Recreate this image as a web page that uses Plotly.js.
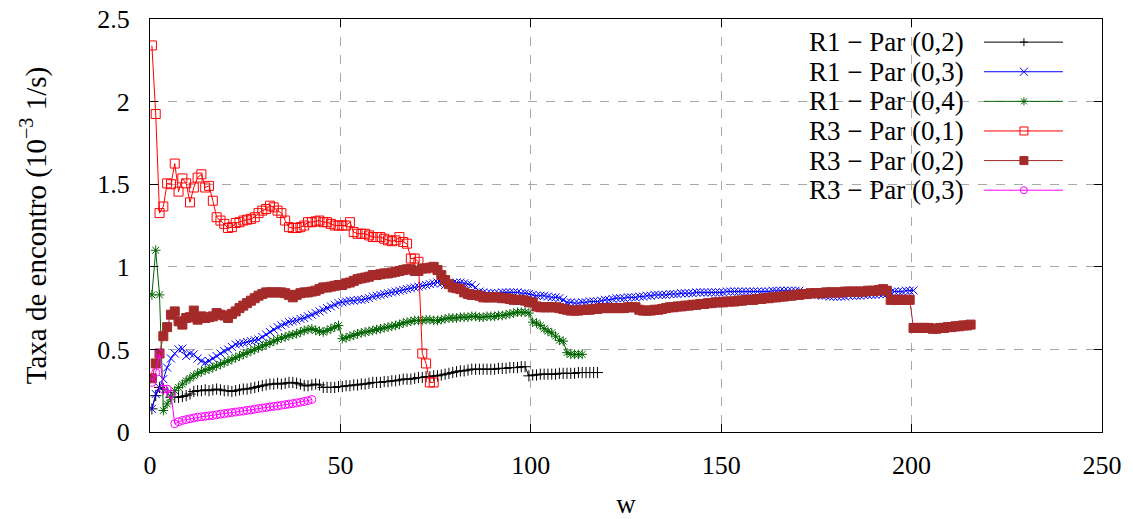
<!DOCTYPE html>
<html>
<head>
<meta charset="utf-8">
<script src="https://cdn.plot.ly/plotly-3.0.1.min.js"></script>
<style>html,body{margin:0;padding:0;background:#fff;}#chart{width:1133px;height:519px;}</style>
</head>
<body>
<div id="chart"></div>
<script>
// Series names
const seriesNames = ["R1 \u2212 Par (0,2)", "R1 \u2212 Par (0,3)", "R1 \u2212 Par (0,4)", "R3 \u2212 Par (0,1)", "R3 \u2212 Par (0,2)", "R3 \u2212 Par (0,3)"];
// first w value of every series (step 1)
const wStart = 0.5;

const r1p02 = [0.14,0.22,0.27,0.26,0.24,0.21,0.21,0.21,0.215,0.22,0.23,0.245,0.25,0.25,0.255,0.25,0.255,0.26,0.255,0.25,
0.25,0.245,0.25,0.255,0.26,0.26,0.265,0.27,0.275,0.28,0.285,0.29,0.29,0.295,0.29,0.295,0.30,0.30,0.295,0.29,
0.28,0.28,0.285,0.29,0.285,0.27,0.27,0.27,0.27,0.275,0.275,0.28,0.28,0.285,0.285,0.29,0.29,0.295,0.30,0.30,
0.30,0.305,0.305,0.31,0.31,0.315,0.32,0.32,0.32,0.325,0.33,0.33,0.335,0.335,0.34,0.34,0.345,0.35,0.355,0.36,
0.365,0.37,0.37,0.375,0.38,0.38,0.38,0.38,0.38,0.38,0.38,0.385,0.385,0.385,0.39,0.39,0.39,0.395,0.395,0.34,
0.345,0.345,0.35,0.35,0.35,0.35,0.35,0.355,0.355,0.355,0.355,0.355,0.36,0.36,0.36,0.36,0.36,0.36];

const r1p03 = [0.14,0.23,0.27,0.32,0.39,0.445,0.475,0.50,0.505,0.46,0.475,0.47,0.445,0.43,0.42,0.43,0.445,0.46,0.475,0.49,
0.50,0.515,0.53,0.535,0.54,0.545,0.55,0.555,0.56,0.575,0.59,0.605,0.62,0.635,0.645,0.655,0.665,0.67,0.675,0.685,
0.69,0.70,0.71,0.72,0.73,0.74,0.75,0.76,0.77,0.78,0.785,0.79,0.795,0.795,0.80,0.80,0.805,0.81,0.82,0.825,
0.83,0.835,0.84,0.845,0.85,0.855,0.86,0.865,0.87,0.875,0.88,0.885,0.89,0.895,0.90,0.905,0.90,0.89,0.895,0.90,
0.905,0.905,0.90,0.895,0.89,0.875,0.85,0.845,0.84,0.84,0.84,0.84,0.845,0.845,0.845,0.845,0.845,0.84,0.84,0.835,
0.83,0.825,0.825,0.825,0.82,0.815,0.815,0.81,0.80,0.785,0.785,0.78,0.78,0.785,0.785,0.79,0.79,0.79,0.795,0.80,
0.80,0.805,0.81,0.81,0.81,0.815,0.815,0.815,0.82,0.82,0.825,0.825,0.83,0.83,0.83,0.83,0.835,0.835,0.835,0.84,
0.84,0.84,0.84,0.845,0.845,0.845,0.845,0.845,0.845,0.845,0.845,0.85,0.85,0.85,0.85,0.85,0.85,0.85,0.85,0.85,
0.85,0.85,0.85,0.855,0.855,0.855,0.855,0.855,0.855,0.855,0.855,0.845,0.84,0.835,0.83,0.83,0.825,0.825,0.82,0.82,
0.82,0.82,0.82,0.825,0.825,0.825,0.825,0.83,0.83,0.83,0.83,0.835,0.835,0.835,0.845,0.85,0.85,0.85,0.855,0.855,
0.857];

const r1p04 = [0.83,1.10,0.83,0.13,0.17,0.21,0.25,0.27,0.29,0.31,0.325,0.34,0.355,0.365,0.375,0.38,0.39,0.40,0.41,0.42,
0.43,0.44,0.45,0.46,0.47,0.48,0.49,0.50,0.51,0.52,0.53,0.54,0.55,0.56,0.57,0.575,0.585,0.59,0.595,0.605,
0.615,0.62,0.625,0.615,0.61,0.605,0.615,0.625,0.635,0.645,0.565,0.57,0.58,0.585,0.595,0.60,0.605,0.61,0.615,0.62,
0.625,0.63,0.635,0.64,0.645,0.65,0.66,0.665,0.67,0.675,0.675,0.675,0.68,0.68,0.675,0.675,0.68,0.685,0.69,0.69,
0.69,0.695,0.695,0.695,0.70,0.70,0.695,0.695,0.70,0.70,0.70,0.705,0.705,0.71,0.715,0.72,0.725,0.725,0.725,0.72,
0.665,0.66,0.645,0.625,0.61,0.60,0.58,0.555,0.55,0.48,0.47,0.47,0.47,0.47];

const r3p01 = [2.34,1.925,1.325,1.365,1.505,1.50,1.625,1.455,1.535,1.505,1.39,1.48,1.54,1.56,1.48,1.49,1.40,1.30,1.28,1.26,
1.235,1.24,1.265,1.27,1.28,1.285,1.29,1.30,1.325,1.34,1.35,1.37,1.36,1.34,1.325,1.28,1.24,1.235,1.235,1.24,
1.25,1.27,1.27,1.275,1.28,1.27,1.27,1.26,1.25,1.25,1.25,1.25,1.27,1.21,1.20,1.20,1.20,1.19,1.18,1.18,
1.18,1.17,1.16,1.155,1.16,1.18,1.15,1.14,1.05,1.05,1.03,0.475,0.415,0.30,0.30];

const r3p02 = [0.325,0.415,0.475,0.58,0.635,0.71,0.73,0.67,0.65,0.69,0.695,0.735,0.68,0.70,0.69,0.695,0.70,0.72,0.71,0.705,
0.69,0.715,0.73,0.75,0.765,0.78,0.795,0.81,0.825,0.835,0.845,0.845,0.845,0.845,0.845,0.84,0.83,0.815,0.83,0.84,
0.845,0.845,0.85,0.855,0.865,0.875,0.875,0.88,0.885,0.89,0.89,0.90,0.905,0.915,0.925,0.93,0.935,0.94,0.95,0.95,
0.955,0.96,0.96,0.965,0.97,0.975,0.98,0.985,0.985,0.975,0.975,0.99,0.99,0.995,1.0,0.98,0.95,0.92,0.895,0.875,
0.87,0.865,0.845,0.835,0.83,0.83,0.825,0.815,0.815,0.815,0.815,0.815,0.81,0.81,0.805,0.80,0.80,0.80,0.795,0.785,
0.785,0.76,0.755,0.755,0.755,0.755,0.755,0.75,0.745,0.74,0.735,0.735,0.735,0.74,0.74,0.74,0.745,0.745,0.75,0.75,
0.75,0.75,0.75,0.75,0.75,0.755,0.755,0.755,0.74,0.735,0.735,0.735,0.74,0.74,0.745,0.75,0.755,0.755,0.76,0.76,
0.765,0.765,0.77,0.77,0.775,0.775,0.78,0.78,0.785,0.785,0.785,0.79,0.79,0.79,0.795,0.795,0.80,0.80,0.80,0.805,
0.805,0.81,0.81,0.815,0.815,0.82,0.82,0.825,0.825,0.83,0.83,0.835,0.835,0.84,0.84,0.84,0.84,0.845,0.845,0.845,
0.845,0.845,0.85,0.85,0.85,0.85,0.85,0.85,0.855,0.855,0.855,0.86,0.865,0.855,0.80,0.80,0.80,0.80,0.80,0.80,
0.63,0.63,0.63,0.63,0.63,0.625,0.625,0.63,0.63,0.635,0.635,0.64,0.64,0.645,0.645,0.65];

const r3p03 = [0.30,0.36,0.475,0.26,0.26,0.23,0.05,0.062,0.07,0.075,0.08,0.085,0.09,0.092,0.095,0.098,0.10,0.104,0.108,0.111,
0.115,0.118,0.121,0.124,0.127,0.131,0.134,0.138,0.142,0.145,0.148,0.152,0.155,0.158,0.162,0.165,0.169,0.172,0.176,0.18,
0.185,0.19,0.197];

const seriesData = [r1p02, r1p03, r1p04, r3p01, r3p02, r3p03];
const colors = ["#000000", "#0000ff", "#006400", "#ff0000", "#a52a2a", "#ff00ff"];
const symbols = ["cross-thin-open", "x-thin-open", "asterisk-open", "square-open", "square", "circle-open"];
const sizes = [8, 8, 8, 9, 9, 8];

const traces = seriesData.map((ys, k) => ({
  type: "scatter",
  mode: "lines+markers",
  name: seriesNames[k],
  showlegend: false,
  x: ys.map((_, i) => wStart + i),
  y: ys,
  line: {color: colors[k], width: 1},
  marker: {symbol: symbols[k], size: sizes[k], color: colors[k], line: {color: colors[k], width: 1}}
}));

// gnuplot-style key: text right-aligned, sample line with marker on its right
const key = {textRight: 0.857, lineX0: 0.876, lineX1: 0.959, markX: 0.918, top: 0.944, step: 0.0717};
const glyphPaths = [
  "M -4,0 L 4,0 M 0,-4 L 0,4",
  "M -4,-4 L 4,4 M -4,4 L 4,-4",
  "M -4,0 L 4,0 M 0,-4 L 0,4 M -3,-3 L 3,3 M -3,3 L 3,-3",
  "M -4,-4 L 4,-4 L 4,4 L -4,4 Z",
  "M -4,-4 L 4,-4 L 4,4 L -4,4 Z",
  null
];
const annotations = [];
const shapes = [{type: "rect", xref: "paper", yref: "paper", x0: 0.597, x1: 0.995, y0: 0.545, y1: 0.995,
                 fillcolor: "#ffffff", line: {width: 0}, layer: "between"}];
seriesNames.forEach((nm, k) => {
  const yk = key.top - k * key.step;
  annotations.push({xref: "paper", yref: "paper", x: key.textRight, y: yk, xanchor: "right", yanchor: "middle",
                    text: nm, showarrow: false, font: {family: "Liberation Serif, serif", size: 27, color: "#000"}});
  shapes.push({type: "line", xref: "paper", yref: "paper", x0: key.lineX0, x1: key.lineX1, y0: yk, y1: yk,
               line: {color: colors[k], width: 1}});
  if (glyphPaths[k]) {
    shapes.push({type: "path", xref: "paper", yref: "paper", xsizemode: "pixel", ysizemode: "pixel",
                 xanchor: key.markX, yanchor: yk, path: glyphPaths[k],
                 fillcolor: k === 4 ? colors[k] : "rgba(0,0,0,0)", line: {color: colors[k], width: 1}});
  } else {
    shapes.push({type: "circle", xref: "paper", yref: "paper", xsizemode: "pixel", ysizemode: "pixel",
                 xanchor: key.markX, yanchor: yk, x0: -3.5, x1: 3.5, y0: -3.5, y1: 3.5,
                 line: {color: colors[k], width: 1}});
  }
});

const serif = "Liberation Serif, serif";
const layout = {
  width: 1133, height: 519,
  margin: {l: 150, r: 31, t: 19, b: 87},
  paper_bgcolor: "#ffffff", plot_bgcolor: "#ffffff",
  font: {family: serif, size: 26, color: "#000"},
  showlegend: false,
  xaxis: {range: [0, 250], dtick: 50, tick0: 0, ticks: "inside", ticklen: 8, tickcolor: "#000",
          showline: true, linecolor: "#000", linewidth: 1, mirror: "ticks",
          showgrid: true, gridcolor: "#a8a8a8", griddash: "dash", gridwidth: 1, zeroline: false,
          tickfont: {family: serif, size: 26}, ticklabelstandoff: 10,
          title: {text: "w", font: {family: serif, size: 27}, standoff: 18}},
  yaxis: {range: [0, 2.5], dtick: 0.5, tick0: 0, ticks: "inside", ticklen: 8, tickcolor: "#000",
          showline: true, linecolor: "#000", linewidth: 1, mirror: "ticks",
          showgrid: true, gridcolor: "#a8a8a8", griddash: "dash", gridwidth: 1, zeroline: false,
          tickfont: {family: serif, size: 26}, ticklabelstandoff: 14,
          title: {text: "Taxa de encontro (10<sup>\u22123</sup> 1/s)", font: {family: serif, size: 29}, standoff: 42}},
  annotations: annotations,
  shapes: shapes
};

Plotly.newPlot("chart", traces, layout, {displayModeBar: false, staticPlot: true});
</script>
</body>
</html>
